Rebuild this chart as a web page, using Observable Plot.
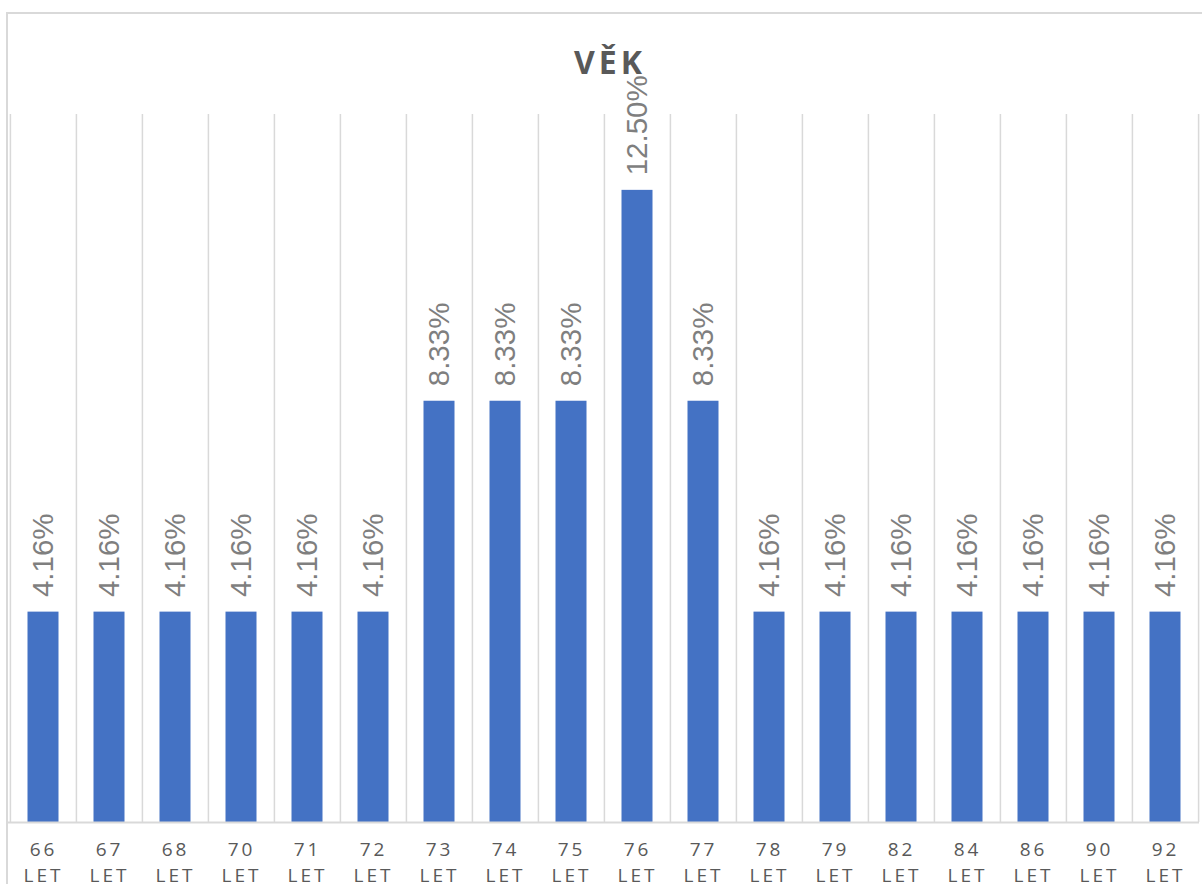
<!DOCTYPE html>
<html>
<head>
<meta charset="utf-8">
<script src="https://cdn.jsdelivr.net/npm/d3@7"></script>
<script src="https://cdn.jsdelivr.net/npm/@observablehq/plot@0.6"></script>
<style>
  html, body { margin: 0; padding: 0; background: #fff; }
  #wrap { position: relative; width: 1202px; height: 884px; overflow: hidden; }
  #frame { position: absolute; left: 6px; top: 12px; width: 1300px; height: 1000px; border: 2px solid #d9d9d9; box-sizing: border-box; }
  #chart { position: absolute; left: 0; top: 0; }
  #chart g[aria-label="x-axis tick label"] text { letter-spacing: 3px; }
  #chart g.title text { letter-spacing: 4px; }
</style>
</head>
<body>
<div id="wrap">
  <div id="frame"></div>
  <div id="chart"></div>
</div>
<script>
const categories = ["66 LET","67 LET","68 LET","70 LET","71 LET","72 LET","73 LET","74 LET","75 LET","76 LET","77 LET","78 LET","79 LET","82 LET","84 LET","86 LET","90 LET","92 LET"];
const values = [4.16,4.16,4.16,4.16,4.16,4.16,8.33,8.33,8.33,12.50,8.33,4.16,4.16,4.16,4.16,4.16,4.16,4.16];
const title = "VĚK";

const data = categories.map((c, i) => ({cat: c, value: values[i]}));

const W = 1202, H = 884, ML = 8, MR = 3, MT = 114, MB = 62;
const bw = (W - ML - MR) / categories.length;
const gridColor = "#d9d9d9";

const plot = Plot.plot({
  width: W,
  height: H,
  marginLeft: ML,
  marginRight: MR,
  marginTop: MT,
  marginBottom: MB,
  x: {type: "band", domain: categories, padding: 0, label: null},
  y: {domain: [0, 14], axis: null},
  marks: [
    Plot.ruleX(categories, {x: d => d, dx: -bw / 2, stroke: gridColor, strokeWidth: 1.5}),
    Plot.ruleX([categories[categories.length - 1]], {x: d => d, dx: bw / 2, stroke: gridColor, strokeWidth: 1.5}),
    Plot.barY(data, {x: "cat", y: "value", fill: "#4472C4", insetLeft: 17.5, insetRight: 17.5}),
    Plot.ruleY([0], {stroke: gridColor, strokeWidth: 2}),
    Plot.text(data, {
      x: "cat", y: "value",
      text: d => d.value.toFixed(2) + "%",
      rotate: -90, textAnchor: "start", lineAnchor: "middle",
      dy: -15,
      fill: "#7f7f7f", fontSize: 29.5, fontFamily: "Liberation Sans, Arial, sans-serif"
    }),
    Plot.axisX({
      tickSize: 0, tickPadding: 15,
      tickFormat: d => d.replace(" ", "\n"),
      lineHeight: 1.37,
      fontSize: 19, fill: "#595959",
      fontFamily: "Open Sans, sans-serif",
      label: null
    }),
    Plot.text([title], {
      frameAnchor: "top", lineAnchor: "middle",
      dy: -51, dx: 6,
      fontSize: 32, fontWeight: "bold", fill: "#595959",
      fontFamily: "Open Sans, sans-serif",
      className: "title"
    })
  ]
});
document.getElementById("chart").appendChild(plot);
</script>
</body>
</html>
